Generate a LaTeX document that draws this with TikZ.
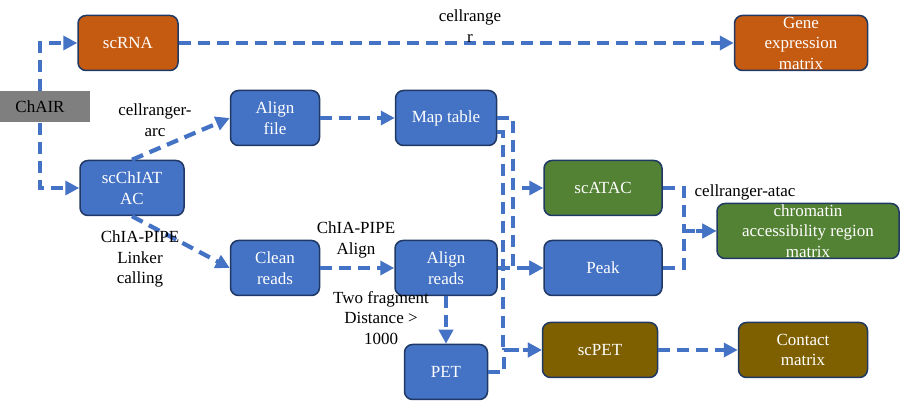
\documentclass[tikz,border=0pt]{standalone}
\usepackage{fontspec}
\setmainfont{Liberation Serif}
\usetikzlibrary{arrows.meta}
\definecolor{rnaorange}{HTML}{C55A11}
\definecolor{procblue}{HTML}{4472C4}
\definecolor{atacgreen}{HTML}{548235}
\definecolor{petbrown}{HTML}{7F6000}
\definecolor{boxline}{HTML}{1F3864}
\definecolor{chairgray}{HTML}{7F7F7F}
\tikzset{
  box/.style={draw=boxline, line width=1.5pt, rounded corners=8pt, text=white,
    align=center, inner sep=0pt, minimum height=55pt},
  flow/.style={draw=procblue, line width=4.2pt, dash pattern=on 12pt off 7pt,
    -{Triangle[length=14pt,width=14pt]}},
  lbl/.style={align=center, text=black}
}

\begin{document}
\begin{tikzpicture}[x=1pt, y=-1pt, every node/.style={font=\fontsize{17}{20.5}\selectfont}]
    \useasboundingbox (0,0) rectangle (903,411);

    \node[fill=chairgray, minimum width=100pt, minimum height=31pt, inner sep=0pt] (chair) at (40,107) {ChAIR};
    \node[box, fill=rnaorange, minimum width=100pt] (scrna) at (128,43) {scRNA};
    \node[box, fill=rnaorange, minimum width=133pt] (gem) at (801,43) {Gene\\expression\\matrix};
    \node[box, fill=procblue, minimum width=104pt] (scchiatac) at (132,188) {scChIAT\\AC};
    \node[box, fill=procblue, minimum width=89pt] (alignf) at (275,118) {Align\\file};
    \node[box, fill=procblue, minimum width=101pt] (maptab) at (446,118) {Map table};
    \node[box, fill=procblue, minimum width=89pt] (clean) at (275,268) {Clean\\reads};
    \node[box, fill=procblue, minimum width=102pt] (alignr) at (446,268) {Align\\reads};
    \node[box, fill=procblue, minimum width=83pt] (pet) at (446,372) {PET};
    \node[box, fill=atacgreen, minimum width=118pt] (scatac) at (603,188) {scATAC};
    \node[box, fill=procblue, minimum width=118pt] (peak) at (603,268) {Peak};
    \node[box, fill=petbrown, minimum width=115pt] (scpet) at (600,350) {scPET};
    \node[box, fill=petbrown, minimum width=129pt] (contact) at (803,350) {Contact\\matrix};
    \node[box, fill=atacgreen, minimum width=182pt] (chrom) at (808,231) {chromatin\\accessibility region\\matrix};

    \draw[flow] (chair.north) |- (scrna.west);
    \draw[flow] (chair.south) |- (scchiatac.west);
    \draw[flow] (scrna) -- (gem);
    \draw[flow] (scchiatac.north) -- (alignf.west);
    \draw[flow] (scchiatac.south) -- (clean.west);
    \draw[flow] (alignf) -- (maptab);
    \draw[flow] (clean) -- (alignr);
    \draw[flow] (alignr) -- (pet);
    \draw[flow] (alignr) -- (peak);
    \draw[flow] (maptab.east) -- ++(16,0) |- (scatac.west);
    \draw[flow] (maptab.east) -- ++(16,0) |- (peak.west);
    \draw[flow] ([yshift=-14pt]maptab.east) -- ++(6,0) |- (scpet.west);
    \draw[flow] (pet.east) -- ++(16,0) |- (scpet.west);
    \draw[flow] (scatac.east) -- ++(21,0) |- (chrom.west);
    \draw[flow] (peak.east) -- ++(21,0) |- (chrom.west);
    \draw[flow] (scpet) -- (contact);

    \node[lbl] (lrange) at (470,26) {cellrange\\r};
    \node[lbl] (larc) at (155,120) {cellranger-\\arc};
    \node[lbl] (llinker) at (140,259) {ChIA-PIPE\\Linker\\calling};
    \node[lbl] (lalign) at (356,240) {ChIA-PIPE\\Align};
    \node[lbl] (ldist) at (381,318) {Two fragment\\Distance >\\1000};
    \node[lbl] (latac) at (745,192) {cellranger-atac};
\end{tikzpicture}
\end{document}
